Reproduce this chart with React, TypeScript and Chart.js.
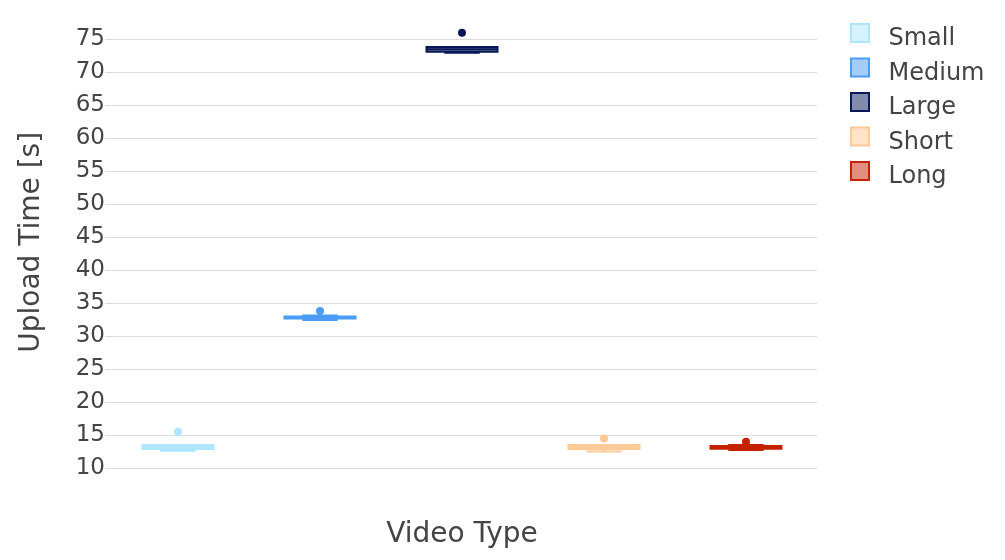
import React, { useEffect, useRef } from 'react';
import { Chart, registerables } from 'chart.js';

Chart.register(...registerables);

const categories = ['Small', 'Medium', 'Large', 'Short', 'Long'];
const colors = ['#ade6ff', '#4a9cf5', '#061858', '#ffc996', '#c42200'];
const lowerWhisker = [12.69, 32.5, 72.99, 12.58, 12.79];
const q1 = [12.94, 32.7, 73.14, 12.94, 12.99];
const median = [13.2, 32.85, 73.5, 13.2, 13.2];
const q3 = [13.55, 33.0, 73.84, 13.55, 13.4];
const upperWhisker = [13.55, 33.15, 73.84, 13.55, 13.55];
const outliers = [15.55, 33.84, 76.02, 14.55, 14.05];
const yMin = 9.05;
const yMax = 79.45;
const yStep = 5;
const xTitle = 'Video Type';
const yTitle = 'Upload Time [s]';

const FONT = "'DejaVu Sans', Verdana, sans-serif";
const TEXT = '#444444';
const GRID = '#dcdcdc';

function rgba(hex: string, a: number) {
  const n = parseInt(hex.slice(1), 16);
  return `rgba(${(n >> 16) & 255},${(n >> 8) & 255},${n & 255},${a})`;
}

// Box outline (stroke centred on the edges, like Plotly), median, whiskers and caps
const boxPlugin = {
  id: 'boxWhiskers',
  afterDatasetsDraw(chart: any) {
    const ctx = chart.ctx;
    const y = chart.scales.y;
    ctx.save();
    ctx.lineWidth = 2;
    categories.forEach((_, i) => {
      const meta = chart.getDatasetMeta(i);
      const el = meta.data[i];
      if (!el) return;
      const cx = el.x;
      const w = el.width;
      const yq1 = y.getPixelForValue(q1[i]);
      const yq3 = y.getPixelForValue(q3[i]);
      const ym = y.getPixelForValue(median[i]);
      const ylo = y.getPixelForValue(lowerWhisker[i]);
      const yhi = y.getPixelForValue(upperWhisker[i]);
      ctx.strokeStyle = colors[i];
      ctx.beginPath();
      ctx.rect(cx - w / 2, yq3, w, yq1 - yq3);
      ctx.moveTo(cx - w / 2, ym);
      ctx.lineTo(cx + w / 2, ym);
      ctx.moveTo(cx, yq3);
      ctx.lineTo(cx, yhi);
      ctx.moveTo(cx, yq1);
      ctx.lineTo(cx, ylo);
      ctx.moveTo(cx - w / 4, yhi);
      ctx.lineTo(cx + w / 4, yhi);
      ctx.moveTo(cx - w / 4, ylo);
      ctx.lineTo(cx + w / 4, ylo);
      ctx.stroke();
    });
    ctx.restore();
  },
};

// Plotly-style legend: square swatch with the label text sitting slightly low
const legendPlugin = {
  id: 'sideLegend',
  afterDraw(chart: any) {
    const ctx = chart.ctx;
    const area = chart.chartArea;
    const bx = area.right + 34;
    const top = 24;
    const step = 34.5;
    ctx.save();
    ctx.font = `24px ${FONT}`;
    ctx.textAlign = 'left';
    ctx.textBaseline = 'alphabetic';
    categories.forEach((_, i) => {
      const ds = chart.data.datasets[i];
      const by = top + i * step;
      ctx.fillStyle = ds.backgroundColor;
      ctx.strokeStyle = ds.borderColor;
      ctx.lineWidth = 2;
      ctx.beginPath();
      ctx.rect(bx, by, 18, 18);
      ctx.fill();
      ctx.stroke();
      ctx.fillStyle = TEXT;
      ctx.fillText(ds.label, bx + 37.5, by + 21.3);
    });
    ctx.restore();
  },
};

export default function App() {
  const ref = useRef<HTMLCanvasElement>(null);
  useEffect(() => {
    if (!ref.current) return;
    Chart.defaults.font.family = FONT;
    const onlyAt = (i: number, v: any) => categories.map((_, j) => (j === i ? v : null));
    const barSets = categories.map((name, i) => ({
      type: 'bar' as const,
      label: name,
      data: onlyAt(i, [q1[i], q3[i]]),
      backgroundColor: rgba(colors[i], 0.5),
      borderColor: colors[i],
      borderWidth: 0,
      barThickness: 71,
      skipNull: true,
    }));
    const outlierSets = categories.map((name, i) => ({
      type: 'line' as const,
      label: name + ' outliers',
      data: onlyAt(i, outliers[i]),
      showLine: false,
      pointRadius: 4,
      pointHoverRadius: 4,
      pointBorderWidth: 0,
      pointBackgroundColor: colors[i],
      borderColor: colors[i],
      backgroundColor: colors[i],
    }));
    const chart = new Chart(ref.current, {
      type: 'bar',
      data: { labels: categories, datasets: [...barSets, ...outlierSets] as any },
      plugins: [boxPlugin, legendPlugin],
      options: {
        animation: false,
        responsive: false,
        layout: { padding: { top: 10, right: 188, bottom: 0, left: 0 } },
        plugins: {
          tooltip: { enabled: false },
          legend: { display: false },
        },
        scales: {
          x: {
            type: 'category',
            grid: { display: false, drawTicks: false },
            border: { display: false },
            ticks: { display: false },
            title: {
              display: true,
              text: xTitle,
              color: TEXT,
              font: { size: 28, family: FONT },
              padding: { top: 43.2, bottom: 8.5 },
            },
          },
          y: {
            type: 'linear',
            min: yMin,
            max: yMax,
            border: { display: false },
            grid: { color: GRID, lineWidth: 1, drawTicks: true, tickLength: 2, tickColor: GRID },
            ticks: {
              stepSize: yStep,
              includeBounds: false,
              padding: 0,
              color: TEXT,
              font: { size: 23, family: FONT },
            },
            title: {
              display: true,
              text: yTitle,
              color: TEXT,
              font: { size: 28, family: FONT },
              padding: { top: 15, bottom: 0 },
            },
            afterFit: (s: any) => {
              s.width = 107;
              s.paddingTop = 0;
              s.paddingBottom = 0;
            },
          },
        },
      } as any,
    });
    return () => chart.destroy();
  }, []);
  return (
    <div style={{ position: 'absolute', left: 0, top: 0, width: 1005, height: 560, background: '#fff' }}>
      <canvas ref={ref} width={1005} height={560} style={{ display: 'block' }} />
    </div>
  );
}
